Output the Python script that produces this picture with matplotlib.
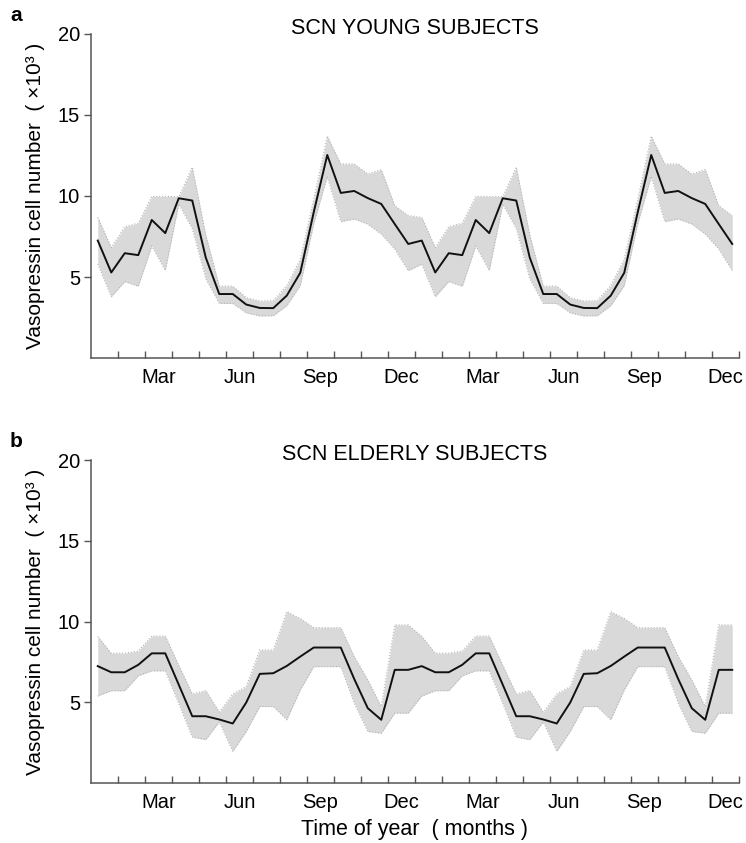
import numpy as np
import matplotlib
matplotlib.use("Agg")
import matplotlib.pyplot as plt

plt.rcParams['font.family'] = ['Liberation Sans', 'DejaVu Sans']

# half-month bins over one year, plotted twice (double plot)
month_labels = ['Mar', 'Jun', 'Sep', 'Dec', 'Mar', 'Jun', 'Sep', 'Dec']
label_pos = [2.5, 5.5, 8.5, 11.5, 14.5, 17.5, 20.5, 23.5]

# SCN young subjects (x10^3), one year in half-month bins
young_mean = [7.25, 5.28, 6.47, 6.35, 8.52, 7.71, 9.86, 9.72, 6.2, 3.95, 3.95, 3.3,
              3.09, 3.08, 3.85, 5.26, 9.0, 12.53, 10.19, 10.31, 9.87, 9.51, 8.27, 7.04]
young_upper = [8.68, 6.82, 8.1, 8.33, 9.97, 9.97, 9.96, 11.78, 7.6, 4.44, 4.44, 3.72,
               3.52, 3.54, 4.47, 6.1, 9.8, 13.7, 11.98, 11.98, 11.36, 11.63, 9.4, 8.79]
young_lower = [5.8, 3.78, 4.72, 4.43, 6.92, 5.41, 9.5, 8.0, 4.9, 3.37, 3.37, 2.79,
               2.6, 2.61, 3.23, 4.47, 8.3, 11.2, 8.42, 8.58, 8.27, 7.65, 6.73, 5.39]

# SCN elderly subjects (x10^3)
elderly_mean = [7.25, 6.87, 6.87, 7.33, 8.04, 8.04, 6.1, 4.15, 4.15, 3.95, 3.7, 5.0,
                6.77, 6.81, 7.26, 7.84, 8.4, 8.4, 8.4, 6.45, 4.65, 3.93, 7.02, 7.02]
elderly_upper = [9.09, 8.05, 8.05, 8.18, 9.11, 9.11, 7.3, 5.53, 5.74, 4.4, 5.53, 5.99,
                 8.25, 8.25, 10.62, 10.2, 9.63, 9.63, 9.63, 7.84, 6.4, 4.75, 9.8, 9.8]
elderly_lower = [5.4, 5.73, 5.73, 6.65, 6.96, 6.96, 4.94, 2.86, 2.7, 3.8, 1.98, 3.21,
                 4.75, 4.75, 3.93, 5.78, 7.22, 7.22, 7.22, 4.96, 3.21, 3.1, 4.34, 4.34]

x = np.arange(48) * 0.5 + 0.25  # bin centres in months


def draw_panel(ax, mean, upper, lower, title, letter, xlabel=None):
    mean2 = np.concatenate([mean, mean])
    up2 = np.concatenate([upper, upper])
    lo2 = np.concatenate([lower, lower])
    ax.fill_between(x, lo2, up2, color='#d9d9d9', lw=0, zorder=1)
    ax.plot(x, up2, color='#b5b5b5', lw=0.8, ls=':', zorder=2)
    ax.plot(x, lo2, color='#b5b5b5', lw=0.8, ls=':', zorder=2)
    ax.plot(x, mean2, color='#111111', lw=1.4, zorder=3)

    ax.set_xlim(0, 24)
    ax.set_ylim(0, 20)
    for s in ['top', 'right']:
        ax.spines[s].set_visible(False)
    for s in ['left', 'bottom']:
        ax.spines[s].set_color('#555555')
        ax.spines[s].set_linewidth(1.1)
    ax.spines['left'].set_bounds(0, 20)

    ax.set_yticks([5, 10, 15, 20])
    ax.tick_params(axis='y', direction='out', length=5, width=1, color='#555555',
                   labelsize=14.5, pad=3)
    ax.set_xticks(np.arange(1, 25))
    ax.set_xticklabels([])
    ax.tick_params(axis='x', which='major', direction='in', length=5, width=1,
                   color='#555555')
    ax.set_xticks(label_pos, minor=True)
    ax.set_xticklabels(month_labels, minor=True)
    ax.tick_params(axis='x', which='minor', length=0, labelsize=14.5, pad=7)

    ax.set_ylabel('Vasopressin cell number  ( \u00d710\u00b3 )', fontsize=15)
    ax.yaxis.set_label_coords(-0.071, 0.5)
    ax.text(0.5, 1.0, title, transform=ax.transAxes, ha='center', va='baseline',
            fontsize=15.5)
    ax.text(-0.125, 1.028, letter, transform=ax.transAxes, ha='left', va='bottom',
            fontsize=15, fontweight='bold')
    if xlabel:
        ax.set_xlabel(xlabel, fontsize=15.5, labelpad=5)


fig = plt.figure(figsize=(7.46, 8.43), dpi=100)
ax1 = fig.add_axes([0.122, 0.5753, 0.8686, 0.3844])
ax2 = fig.add_axes([0.122, 0.0708, 0.8686, 0.3835])

draw_panel(ax1, young_mean, young_upper, young_lower, 'SCN YOUNG SUBJECTS', 'a')
draw_panel(ax2, elderly_mean, elderly_upper, elderly_lower, 'SCN ELDERLY SUBJECTS', 'b',
           xlabel='Time of year  ( months )')

fig.savefig('out.png', dpi=100)
